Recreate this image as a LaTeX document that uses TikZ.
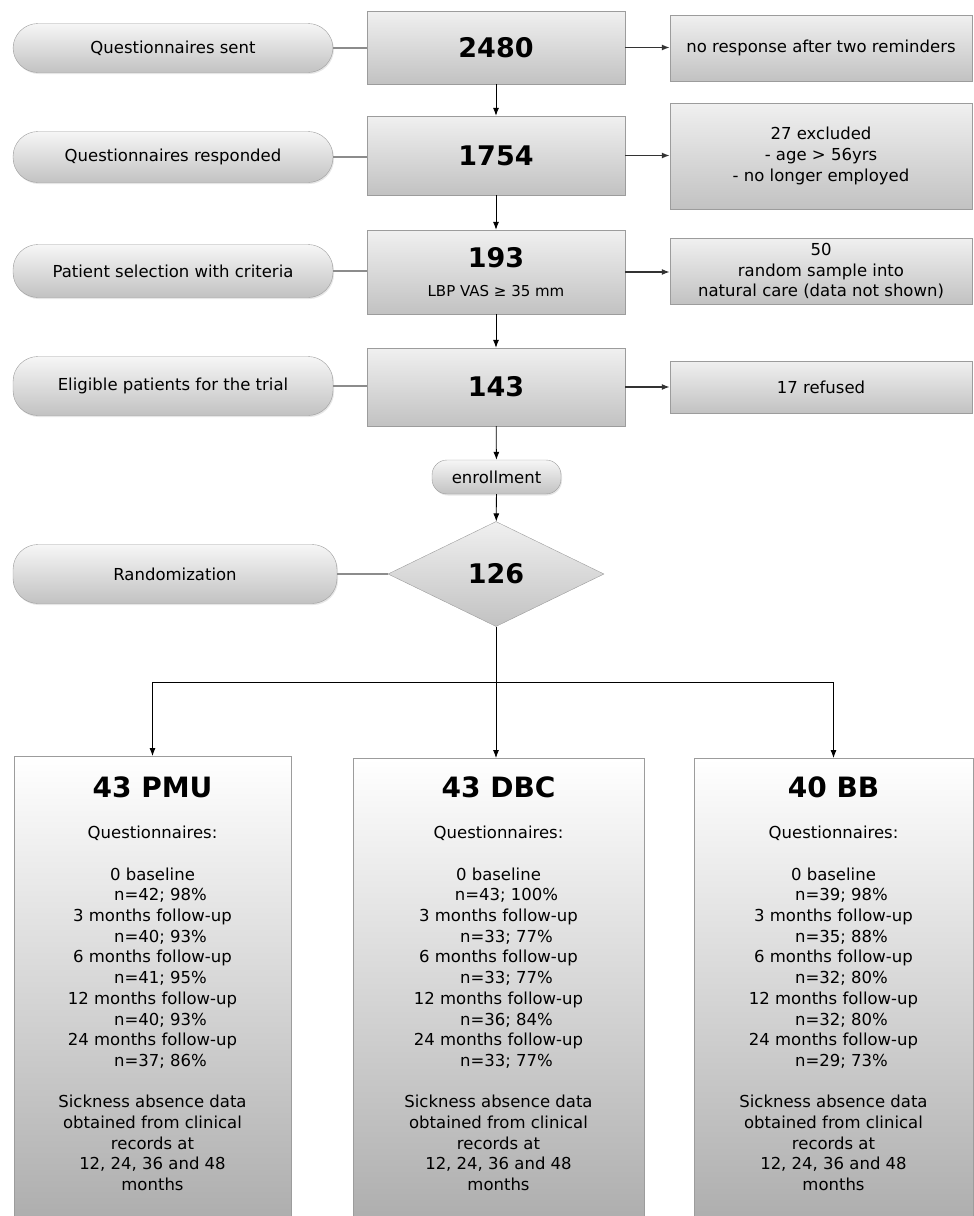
\documentclass[tikz,border=0pt]{standalone}
\usepackage{fontspec}
\setmainfont{DejaVu Sans}
\usepackage{tikz}
\usetikzlibrary{positioning,shapes.geometric,shadows,arrows.meta}

\definecolor{boxline}{HTML}{9C9C9C}
\definecolor{boxtop}{HTML}{F0F0F0}
\definecolor{boxbottom}{HTML}{C2C2C2}
\definecolor{linkgray}{HTML}{8C8C8C}
\newcommand{\bodyfont}{\fontsize{16.5}{20.7}\selectfont}
\newcommand{\numfont}{\bfseries\fontsize{27}{30}\selectfont}
\newcommand{\nshift}[1]{\hspace*{16pt}#1}

\begin{document}
\begin{tikzpicture}[x=1pt,y=-1pt,
    stage/.style={draw=boxline, rounded corners=25pt, top color=boxtop!60!white,
        bottom color=boxbottom, minimum width=320pt, inner sep=0pt, font=\bodyfont,
        drop shadow={opacity=0.2, shadow xshift=1pt, shadow yshift=-1.5pt}},
    count/.style={draw=boxline, top color=boxtop, bottom color=boxbottom,
        minimum width=258pt, inner sep=0pt, align=center, font=\numfont},
    note/.style={draw=boxline, top color=boxtop, bottom color=boxbottom,
        minimum width=302pt, inner sep=0pt, align=center, font=\bodyfont},
    arm/.style={draw=boxline, top color=white, bottom color=boxbottom!88!black,
        minimum height=480pt, anchor=north, inner sep=0pt},
    armtitle/.style={inner sep=0pt, font=\bfseries\fontsize{28}{32}\selectfont},
    armtext/.style={inner sep=0pt, anchor=north, align=center, font=\bodyfont},
    link/.style={draw=linkgray, line width=1.6pt},
    flow/.style={-{Latex[length=8pt,width=6pt]}, line width=0.8pt},
    side/.style={-{Latex[length=8pt,width=6pt]}, line width=1.4pt, draw=black!80}
]
    \clip (0,0) rectangle (974,1216);

    % first four rows
    \node[stage, minimum height=49pt] (sent) at (173,48) {Questionnaires sent};
    \node[count, minimum height=73pt] (n2480) at (496,47.5) {2480};
    \node[note, minimum height=66pt] (noresp) at (821,48) {no response after two reminders};

    \node[stage, minimum height=51pt] (resp) at (173,157) {Questionnaires responded};
    \node[count, minimum height=79pt] (n1754) at (496,155.5) {1754};
    \node[note, minimum height=106pt] (excl) at (821,156) {
        27 excluded\\
        - age > 56yrs\\
        - no longer employed
    };

    \node[stage, minimum height=53pt] (select) at (173,271) {Patient selection with criteria};
    \node[count, minimum height=84pt] (n193) at (496,272) {
        193\\[-1pt]
        {\mdseries\fontsize{15}{17}\selectfont LBP VAS ≥ 35 mm}
    };
    \node[note, minimum height=66pt] (sample) at (821,271) {
        50\\
        random sample into\\
        natural care (data not shown)
    };

    \node[stage, minimum height=59pt] (elig) at (173,386) {Eligible patients for the trial};
    \node[count, minimum height=78pt] (n143) at (496,387) {143};
    \node[note, minimum height=52pt] (refused) at (821,387) {17 refused};

    % enrollment and randomization
    \node[stage, minimum width=129pt, minimum height=34pt, rounded corners=15pt] (enrol) at (496.5,477) {enrollment};
    \node[diamond, draw=boxline, top color=boxtop, bottom color=boxbottom,
        minimum width=216pt, minimum height=105pt, inner sep=0pt, font=\numfont] (n126) at (496,574) {126};
    \node[stage, minimum width=324pt, minimum height=59pt] (random) at (175,574) {Randomization};

    % connectors
    \draw[link] (sent.east) -- (sent.east -| n2480.west);
    \draw[link] (resp.east) -- (resp.east -| n1754.west);
    \draw[link] (select.east) -- (select.east -| n193.west);
    \draw[link] (elig.east) -- (elig.east -| n143.west);
    \draw[link] (random.east) -- (random.east -| n126.west);

    \draw[side] (n2480.east) -- (n2480.east -| noresp.west);
    \draw[side] (n1754.east) -- (n1754.east -| excl.west);
    \draw[side] (n193.east) -- (n193.east -| sample.west);
    \draw[side] (n143.east) -- (n143.east -| refused.west);

    \draw[flow] (n2480) -- (n1754);
    \draw[flow] (n1754) -- (n193);
    \draw[flow] (n193) -- (n143);
    \draw[flow] (n143) -- (enrol);
    \draw[flow] (enrol) -- (n126);

    % three arms
    \node[arm, minimum width=277pt] (pmu) at (152.5,756) {};
    \node[arm, minimum width=291pt] (dbc) at (498.5,758) {};
    \node[arm, minimum width=279pt] (bb) at (833.5,758) {};

    \coordinate (split) at (496,682);
    \draw[flow] (n126.south) -- (n126.south |- dbc.north);
    \draw[flow] (split) -| (pmu.north);
    \draw[flow] (split) -| (bb.north);

    \node[armtitle] (pmuhead) at (pmu.north |- 0,787) {43 PMU};
    \node[armtitle] (dbchead) at (dbc.north |- 0,787) {43 DBC};
    \node[armtitle] (bbhead) at (bb.north |- 0,787) {40 BB};

    \node[armtext] (pmutext) at (pmu.north |- 0,826) {
        Questionnaires:\\[20.7pt]
        0 baseline\\ \nshift{n=42; 98\%}\\
        3 months follow-up\\ \nshift{n=40; 93\%}\\
        6 months follow-up\\ \nshift{n=41; 95\%}\\
        12 months follow-up\\ \nshift{n=40; 93\%}\\
        24 months follow-up\\ \nshift{n=37; 86\%}\\[20.7pt]
        Sickness absence data\\
        obtained from clinical\\
        records at\\
        12, 24, 36 and 48\\
        months
    };
    \node[armtext] (dbctext) at (dbc.north |- 0,826) {
        Questionnaires:\\[20.7pt]
        0 baseline\\ \nshift{n=43; 100\%}\\
        3 months follow-up\\ \nshift{n=33; 77\%}\\
        6 months follow-up\\ \nshift{n=33; 77\%}\\
        12 months follow-up\\ \nshift{n=36; 84\%}\\
        24 months follow-up\\ \nshift{n=33; 77\%}\\[20.7pt]
        Sickness absence data\\
        obtained from clinical\\
        records at\\
        12, 24, 36 and 48\\
        months
    };
    \node[armtext] (bbtext) at (bb.north |- 0,826) {
        Questionnaires:\\[20.7pt]
        0 baseline\\ \nshift{n=39; 98\%}\\
        3 months follow-up\\ \nshift{n=35; 88\%}\\
        6 months follow-up\\ \nshift{n=32; 80\%}\\
        12 months follow-up\\ \nshift{n=32; 80\%}\\
        24 months follow-up\\ \nshift{n=29; 73\%}\\[20.7pt]
        Sickness absence data\\
        obtained from clinical\\
        records at\\
        12, 24, 36 and 48\\
        months
    };
\end{tikzpicture}
\end{document}
